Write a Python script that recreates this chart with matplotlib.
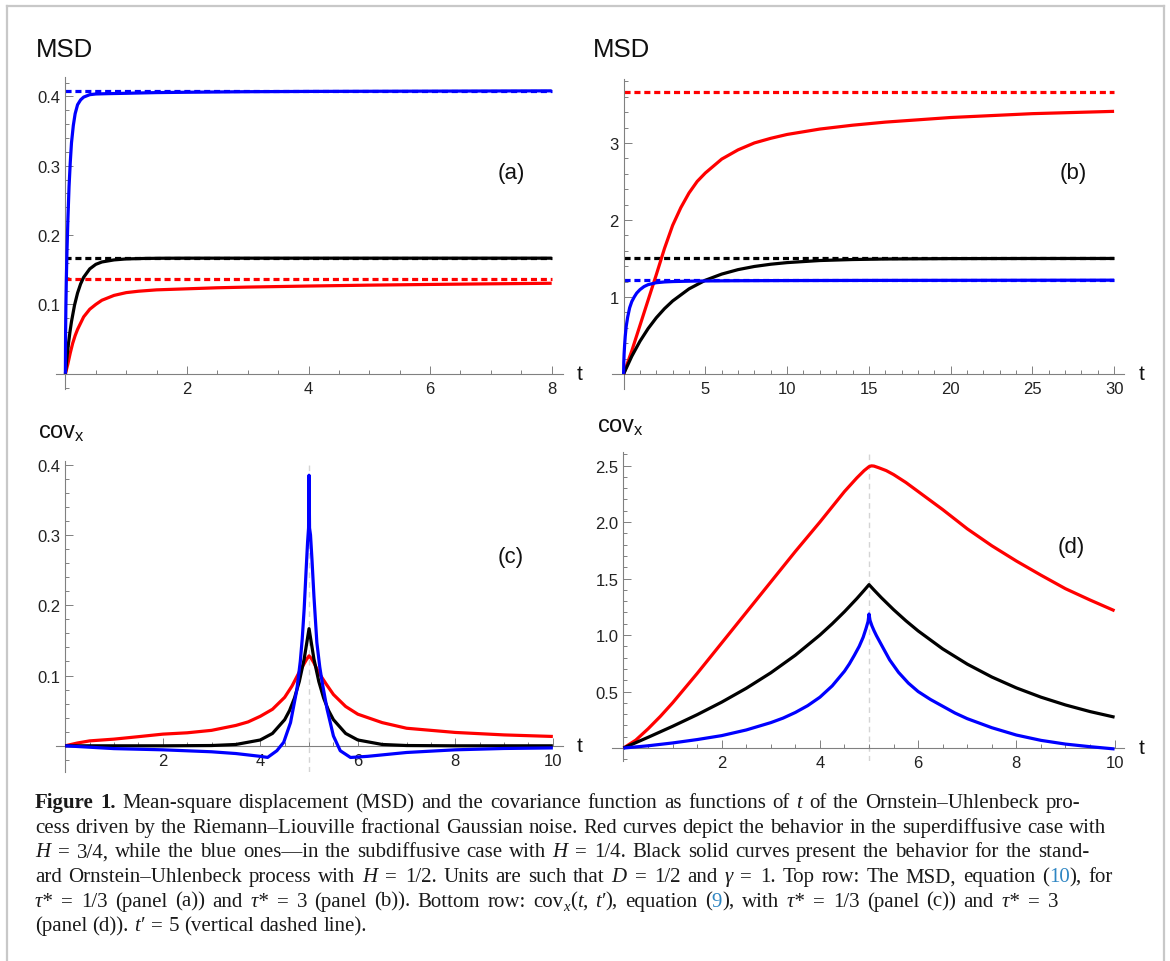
import matplotlib
matplotlib.use('Agg')
import matplotlib.pyplot as plt
from matplotlib.lines import Line2D
from matplotlib.ticker import FixedLocator, MultipleLocator

# ---------------------------------------------------------------------------
# Data
# ---------------------------------------------------------------------------
# Panel (a): MSD, tau* = 1/3
a_t_red = [0, 0.04, 0.08, 0.12, 0.16, 0.2, 0.3, 0.4, 0.5, 0.6, 0.8, 1.0, 1.2,
           1.5, 2, 2.5, 3, 4, 5, 6, 7, 8]
a_red = [0, 0.014, 0.030, 0.044, 0.055, 0.064, 0.082, 0.093, 0.100, 0.106,
         0.113, 0.117, 0.119, 0.121, 0.1225, 0.124, 0.125, 0.1265, 0.1278,
         0.1288, 0.1297, 0.1305]
a_t_black = [0, 0.025, 0.05, 0.075, 0.1, 0.15, 0.2, 0.25, 0.3, 0.4, 0.5, 0.6,
             0.8, 1.0, 1.3, 1.6, 2, 4, 8]
a_black = [0, 0.0232, 0.0432, 0.0604, 0.0752, 0.0989, 0.1165, 0.1295, 0.1391,
           0.1512, 0.1578, 0.1612, 0.1642, 0.1656, 0.1663, 0.1666, 0.1667,
           0.1667, 0.1667]
a_t_blue = [0, 0.003, 0.008, 0.015, 0.025, 0.04, 0.06, 0.08, 0.1, 0.13, 0.16,
            0.2, 0.25, 0.3, 0.4, 0.5, 0.7, 1.0, 1.5, 2, 3, 4, 6, 8]
a_blue = [0, 0.06, 0.098, 0.135, 0.174, 0.22, 0.27, 0.305, 0.333, 0.358,
          0.375, 0.388, 0.395, 0.399, 0.4025, 0.4035, 0.404, 0.4045, 0.4055,
          0.406, 0.4068, 0.4072, 0.4076, 0.408]
a_limits = {'red': 0.136, 'black': 0.1667, 'blue': 0.4085}

# Panel (b): MSD, tau* = 3
b_t_red = [0, 0.5, 1, 1.5, 2, 2.5, 3, 3.5, 4, 4.5, 5, 6, 7, 8, 9, 10, 12, 14,
           16, 18, 20, 25, 30]
b_red = [0, 0.30, 0.63, 0.96, 1.29, 1.63, 1.93, 2.16, 2.35, 2.50, 2.61, 2.79,
         2.91, 3.00, 3.06, 3.11, 3.18, 3.23, 3.27, 3.30, 3.33, 3.38, 3.41]
b_t_black = [0, 0.5, 1, 1.5, 2, 2.5, 3, 4, 5, 6, 7, 8, 9, 10, 12, 14, 16, 20,
             25, 30]
b_black = [0, 0.230, 0.425, 0.590, 0.730, 0.848, 0.948, 1.105, 1.217, 1.297,
           1.355, 1.396, 1.425, 1.446, 1.473, 1.486, 1.493, 1.498, 1.4995,
           1.4999]
b_t_blue = [0, 0.01, 0.03, 0.06, 0.1, 0.16, 0.25, 0.37, 0.5, 0.65, 0.8, 1.0,
            1.25, 1.5, 2, 2.5, 3, 4, 5, 7, 10, 15, 20, 30]
b_blue = [0, 0.15, 0.26, 0.37, 0.49, 0.62, 0.74, 0.86, 0.94, 1.0, 1.05, 1.095,
          1.135, 1.16, 1.185, 1.195, 1.2, 1.205, 1.208, 1.211, 1.213, 1.215,
          1.216, 1.218]
b_limits = {'red': 3.66, 'black': 1.5, 'blue': 1.225}

# Panel (c): cov_x(t, t'=5), tau* = 1/3
c_t_red = [0, 0.25, 0.5, 1, 1.5, 2, 2.5, 3, 3.5, 3.75, 4, 4.25, 4.5, 4.65,
           4.8, 4.9, 4.95, 5, 5.05, 5.1, 5.2, 5.35, 5.5, 5.75, 6, 6.5, 7, 7.5,
           8, 9, 10]
c_red = [0, 0.004, 0.007, 0.0095, 0.013, 0.0166, 0.0185, 0.022, 0.029, 0.034,
         0.042, 0.052, 0.069, 0.085, 0.105, 0.117, 0.123, 0.128, 0.124, 0.118,
         0.104, 0.088, 0.073, 0.056, 0.045, 0.033, 0.025, 0.022, 0.019,
         0.0155, 0.0133]
c_t_black = [0, 2, 3, 3.5, 4, 4.25, 4.5, 4.6, 4.7, 4.8, 4.9, 5, 5.1, 5.2, 5.3,
             5.4, 5.5, 5.75, 6, 6.5, 7, 8, 10]
c_black = [0, 0.0, 0.0004, 0.0019, 0.0083, 0.0176, 0.0372, 0.0502, 0.0678,
           0.0915, 0.1235, 0.1667, 0.1235, 0.0915, 0.0678, 0.0502, 0.0372,
           0.0176, 0.0083, 0.0019, 0.0004, 0.0, 0.0]
c_t_blue = [0, 0.5, 1, 2, 3, 3.5, 4, 4.15, 4.34, 4.48, 4.62, 4.75, 4.82, 4.86,
            4.9, 4.94, 4.97, 4.99, 5, 5.01, 5.03, 5.06, 5.1, 5.16, 5.22, 5.27,
            5.37, 5.5, 5.64, 5.85, 6.2, 7, 8, 9, 10]
c_blue = [0, -0.002, -0.004, -0.0057, -0.0085, -0.011, -0.015, -0.0165,
          -0.007, 0.005, 0.033, 0.08, 0.12, 0.152, 0.195, 0.25, 0.29, 0.31,
          0.385, 0.31, 0.3, 0.265, 0.213, 0.147, 0.112, 0.09, 0.052, 0.014,
          -0.007, -0.0166, -0.015, -0.0095, -0.0057, -0.0038, -0.003]

# Panel (d): cov_x(t, t'=5), tau* = 3
d_t_red = [0, 0.25, 0.5, 0.75, 1, 1.5, 2, 2.5, 3, 3.5, 4, 4.5, 4.75, 4.9, 5,
           5.05, 5.1, 5.2, 5.35, 5.5, 5.75, 6, 6.5, 7, 7.5, 8, 8.5, 9, 9.5, 10]
d_red = [0, 0.07, 0.17, 0.28, 0.40, 0.66, 0.93, 1.2, 1.47, 1.74, 2.0, 2.27,
         2.39, 2.455, 2.49, 2.497, 2.495, 2.48, 2.455, 2.42, 2.35, 2.27, 2.11,
         1.94, 1.79, 1.655, 1.53, 1.41, 1.31, 1.215]
d_t_black = [0, 0.5, 1, 1.5, 2, 2.5, 3, 3.5, 4, 4.25, 4.5, 4.75, 4.9, 5, 5.1,
             5.25, 5.5, 5.75, 6, 6.5, 7, 7.5, 8, 8.5, 9, 9.5, 10]
d_black = [0, 0.0948, 0.1924, 0.2952, 0.4063, 0.5288, 0.6659, 0.8216, 1.0001,
           1.0995, 1.2066, 1.3218, 1.3955, 1.446, 1.399, 1.3308, 1.2245,
           1.1265, 1.0364, 0.8773, 0.7427, 0.6286, 0.5322, 0.4504, 0.3813,
           0.3227, 0.2734]
d_t_blue = [0, 0.5, 1, 1.5, 2, 2.5, 3, 3.25, 3.5, 3.75, 4, 4.25, 4.5, 4.6,
            4.7, 4.8, 4.88, 4.94, 4.98, 5, 5.02, 5.06, 5.1, 5.15, 5.2, 5.3,
            5.42, 5.6, 5.8, 6, 6.25, 6.5, 6.75, 7, 7.5, 8, 8.5, 9, 9.5, 10]
d_blue = [0, 0.02, 0.045, 0.075, 0.11, 0.16, 0.225, 0.265, 0.315, 0.375,
          0.45, 0.55, 0.68, 0.745, 0.82, 0.9, 0.98, 1.06, 1.12, 1.186, 1.13,
          1.08, 1.04, 0.995, 0.955, 0.875, 0.78, 0.67, 0.575, 0.5, 0.43, 0.37,
          0.31, 0.26, 0.18, 0.115, 0.068, 0.035, 0.012, -0.008]
t_prime = 5

# ---------------------------------------------------------------------------
# Style
# ---------------------------------------------------------------------------
plt.rcParams['font.family'] = ['Liberation Sans', 'DejaVu Sans']
plt.rcParams['mathtext.fontset'] = 'stix'

W, H = 1170, 962
RED, BLACK, BLUE = '#ff0000', '#000000', '#0000ff'
AXIS_GRAY = '#808080'
LABEL_COL = '#222222'
LW = 2.3
DASH = (0, (1.9, 1.2))

fig = plt.figure(figsize=(W / 100, H / 100), dpi=100)
fig.patch.set_facecolor('white')


def fx(x):
    return x / W


def fy(y):
    return 1 - y / H


def add_panel(box, xlim, ylim, xmajor, xminor, ymajor, ylabels, yminor):
    l, r, t, b = box
    ax = fig.add_axes([fx(l), fy(b), (r - l) / W, (b - t) / H])
    ax.set_xlim(xlim)
    ax.set_ylim(ylim)
    ax.patch.set_alpha(0)
    for s in ('top', 'right'):
        ax.spines[s].set_visible(False)
    for s in ('left', 'bottom'):
        ax.spines[s].set_position(('data', 0))
        ax.spines[s].set_color(AXIS_GRAY)
        ax.spines[s].set_linewidth(0.8)
    ax.xaxis.set_major_locator(FixedLocator(xmajor))
    ax.set_xticklabels([f'{v:g}' for v in xmajor])
    ax.xaxis.set_minor_locator(MultipleLocator(xminor))
    ax.yaxis.set_major_locator(FixedLocator(ymajor))
    ax.set_yticklabels(ylabels)
    ax.yaxis.set_minor_locator(MultipleLocator(yminor))
    ax.tick_params(which='both', direction='in', color=AXIS_GRAY, width=0.7)
    ax.tick_params(which='major', length=5.5)
    ax.tick_params(which='minor', length=3)
    ax.tick_params(axis='both', labelsize=12, labelcolor=LABEL_COL)
    ax.tick_params(axis='x', pad=5)
    ax.tick_params(axis='y', pad=3.5)
    return ax


def curve(ax, t, v, color):
    ax.plot(t, v, color=color, lw=LW, solid_joinstyle='round',
            solid_capstyle='butt', zorder=3)


def limit(ax, t, value, color):
    ax.plot([t[0], t[-1]], [value, value], color=color, lw=LW, ls=DASH,
            dash_capstyle='butt', zorder=2)


# ---------------------------------------------------------------------------
# Panels
# ---------------------------------------------------------------------------
ax_a = add_panel((55.5, 562.6, 78, 390), (-0.163, 8.18), (-0.022, 0.428),
                 [2, 4, 6, 8], 0.5, [0.1, 0.2, 0.3, 0.4],
                 ['0.1', '0.2', '0.3', '0.4'], 0.02)
limit(ax_a, a_t_red, a_limits['red'], RED)
limit(ax_a, a_t_black, a_limits['black'], BLACK)
limit(ax_a, a_t_blue, a_limits['blue'], BLUE)
curve(ax_a, a_t_red, a_red, RED)
curve(ax_a, a_t_black, a_black, BLACK)
curve(ax_a, a_t_blue, a_blue, BLUE)

ax_b = add_panel((612, 1124.4, 80, 390), (-0.71, 30.63), (-0.195, 3.83),
                 [5, 10, 15, 20, 25, 30], 1, [1, 2, 3], ['1', '2', '3'], 0.2)
limit(ax_b, b_t_red, b_limits['red'], RED)
limit(ax_b, b_t_black, b_limits['black'], BLACK)
limit(ax_b, b_t_blue, b_limits['blue'], BLUE)
curve(ax_b, b_t_red, b_red, RED)
curve(ax_b, b_t_black, b_black, BLACK)
curve(ax_b, b_t_blue, b_blue, BLUE)

ax_c = add_panel((55.5, 562.6, 461.7, 773.3), (-0.2, 10.2), (-0.0377, 0.4057),
                 [2, 4, 6, 8, 10], 0.5, [0.1, 0.2, 0.3, 0.4],
                 ['0.1', '0.2', '0.3', '0.4'], 0.02)
ax_c.axvline(t_prime, color='#d4d4d4', lw=1.0, ls=(0, (4, 3)), zorder=1)
curve(ax_c, c_t_red, c_red, RED)
curve(ax_c, c_t_black, c_black, BLACK)
curve(ax_c, c_t_blue, c_blue, BLUE)

ax_d = add_panel((612.2, 1124.4, 453.3, 761.7), (-0.23, 10.2), (-0.112, 2.617),
                 [2, 4, 6, 8, 10], 0.5, [0.5, 1.0, 1.5, 2.0, 2.5],
                 ['0.5', '1.0', '1.5', '2.0', '2.5'], 0.1)
ax_d.axvline(t_prime, color='#d4d4d4', lw=1.0, ls=(0, (4, 3)), zorder=1)
curve(ax_d, d_t_red, d_red, RED)
curve(ax_d, d_t_black, d_black, BLACK)
curve(ax_d, d_t_blue, d_blue, BLUE)

# axis names and panel letters
for x, y in ((36, 50), (593, 50)):
    fig.text(fx(x), fy(y), 'MSD', fontsize=18.5, ha='left', va='center',
             color='#111111')
for x, y in ((38, 433), (597, 427)):
    fig.text(fx(x), fy(y), r'$\mathregular{cov_x}$', fontsize=17,
             ha='left', va='center', color='#111111')
for x, y in ((577, 375), (1139, 375), (577, 747), (1139, 749)):
    fig.text(fx(x), fy(y), 't', fontsize=15, ha='left', va='center',
             color='#111111')
for x, y, s in ((511, 173, '(a)'), (1073, 173, '(b)'),
                (511, 557, '(c)'), (1071, 548, '(d)')):
    fig.text(fx(x), fy(y), s, fontsize=16, ha='center', va='center',
             color='#111111')

# light frame round the figure
frame = dict(transform=fig.transFigure, color='#c8c8c8', lw=1.6)
fig.add_artist(Line2D([fx(7), fx(7)], [fy(7), 0], **frame))
fig.add_artist(Line2D([fx(7), fx(1164)], [fy(7), fy(7)], **frame))
fig.add_artist(Line2D([fx(1164), fx(1164)], [fy(7), 0], **frame))

# ---------------------------------------------------------------------------
# Caption (laid out word by word so that line ends match the page)
# ---------------------------------------------------------------------------
SERIF = ['Liberation Serif', 'DejaVu Serif']
LINK = '#2f86c3'
TEXT_COL = '#1a1a1a'
caption = [
    [('Figure 1.', 'bold'),
     (' Mean-square displacement (MSD) and the covariance function as '
      'functions of ', 'normal'), ('t', 'italic'),
     (' of the Ornstein–Uhlenbeck pro-', 'normal')],
    [('cess driven by the Riemann–Liouville fractional Gaussian noise. Red '
      'curves depict the behavior in the superdiffusive case with', 'normal')],
    [('H', 'italic'), (' = 3/4, while the blue ones—in the subdiffusive case '
                       'with ', 'normal'),
     ('H', 'italic'), (' = 1/4. Black solid curves present the behavior for '
                       'the stand-', 'normal')],
    [('ard Ornstein–Uhlenbeck process with ', 'normal'), ('H', 'italic'),
     (' = 1/2. Units are such that ', 'normal'), ('D', 'italic'),
     (' = 1/2 and ', 'normal'), ('γ', 'italic'),
     (' = 1. Top row: The MSD, equation (', 'normal'), ('10', 'link'),
     ('), for', 'normal')],
    [('τ*', 'italic'), (' = 1/3 (panel (a)) and ', 'normal'), ('τ*', 'italic'),
     (' = 3 (panel (b)). Bottom row: cov', 'normal'), ('x', 'sub'),
     ('(', 'normal'), ('t', 'italic'), (', ', 'normal'), ('t′', 'italic'),
     ('), equation (', 'normal'), ('9', 'link'), ('), with ', 'normal'),
     ('τ*', 'italic'), (' = 1/3 (panel (c)) and ', 'normal'), ('τ*', 'italic'),
     (' = 3', 'normal')],
    [('(panel (d)). ', 'normal'), ('t′', 'italic'),
     (' = 5 (vertical dashed line).', 'normal')],
]
line_ends = [1080, 1106, 1089, 1113, 1085, None]

renderer = fig.canvas.get_renderer()


def text_kw(style, size):
    kw = dict(fontsize=size, family=SERIF, color=TEXT_COL, fontweight='normal',
              fontstyle='normal')
    if style == 'bold':
        kw['fontweight'] = 'bold'
    elif style == 'italic':
        kw['fontstyle'] = 'italic'
    elif style == 'link':
        kw['color'] = LINK
    elif style == 'sub':
        kw['fontstyle'] = 'italic'
        kw['fontsize'] = size * 0.7
    return kw


def measure(s, style, size):
    t = fig.text(0, 0, s, **text_kw(style, size))
    w = t.get_window_extent(renderer).width
    t.remove()
    return w


def runs_of(line):
    runs = []
    for s, style in line:
        for j, word in enumerate(s.split(' ')):
            if j > 0:
                runs.append(None)
            if word:
                runs.append((word, 'eq' if word == '=' else style))
    return runs


size0 = 14
natural = measure(caption[1][0][0], 'normal', size0)
cap_size = size0 * (1106 - 35) / natural
space_w = measure('x x', 'normal', cap_size) - measure('xx', 'normal', cap_size)
eq_pad = 0.05 * cap_size * 100 / 72     # a little math spacing round '='

x0, y0, step = 35, 808, 24.7
for i, line in enumerate(caption):
    runs = runs_of(line)
    widths = []
    for r in runs:
        if r is None:
            widths.append(None)
        elif r[1] == 'eq':
            widths.append(measure('=', 'normal', cap_size) + 2 * eq_pad)
        else:
            widths.append(measure(r[0], r[1], cap_size))
    n_sp = sum(1 for r in runs if r is None)
    gap = space_w
    if line_ends[i] is not None and n_sp:
        ink = sum(w for w in widths if w is not None)
        gap = (line_ends[i] - x0 - ink) / n_sp
        gap = max(0.8 * space_w, min(gap, 1.4 * space_w))
    x = x0
    y = y0 + i * step
    for r, w in zip(runs, widths):
        if r is None:
            x += gap
            continue
        word, style = r
        dy = 4 if style == 'sub' else 0
        if style == 'eq':
            fig.text(fx(x + eq_pad), fy(y), word, ha='left', va='baseline',
                     **text_kw('normal', cap_size))
        else:
            fig.text(fx(x), fy(y + dy), word, ha='left', va='baseline',
                     **text_kw(style, cap_size))
        x += w

fig.savefig('out.png', dpi=100, facecolor='white')
